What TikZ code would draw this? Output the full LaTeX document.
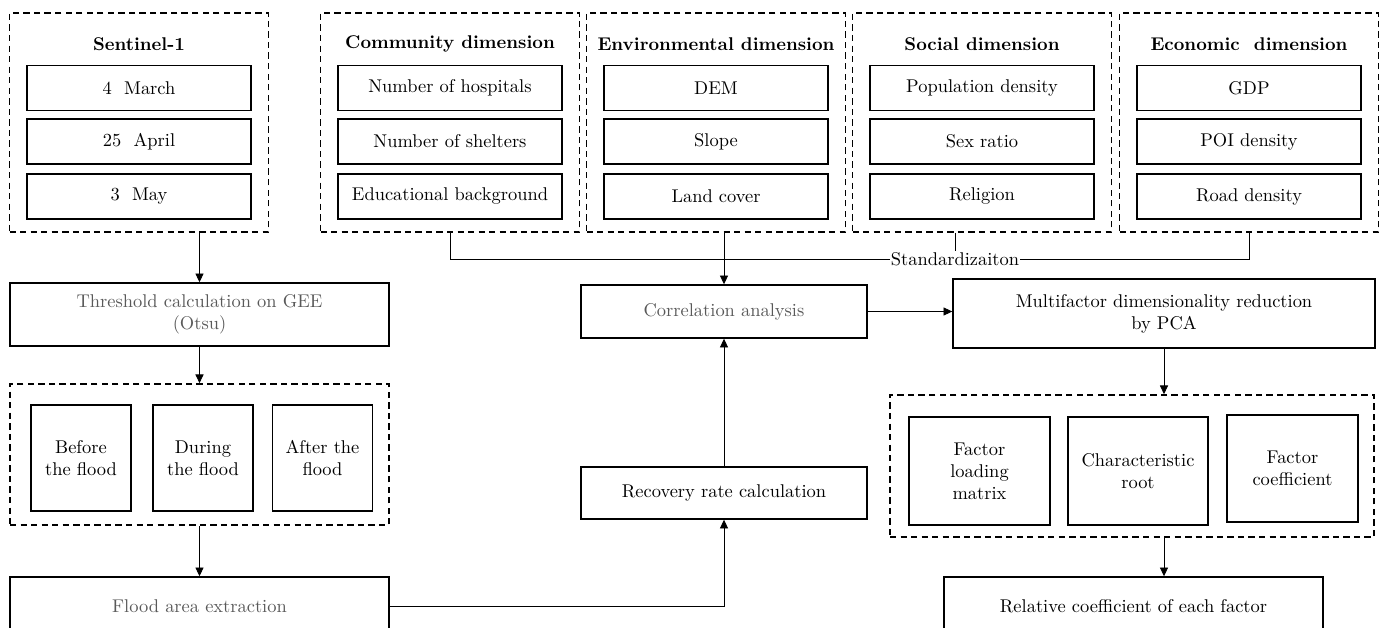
\documentclass[tikz,border=0pt]{standalone}
\usetikzlibrary{arrows.meta,positioning}
\begin{document}
\begin{tikzpicture}[x=0.02cm,y=-0.02cm,
    font=\fontsize{10.5}{12.5}\selectfont,
    sz/.style 2 args={minimum width=#1*0.02cm,minimum height=#2*0.02cm,inner sep=1pt},
    group/.style={draw,line width=0.9pt,dash pattern=on 3.6pt off 2.4pt},
    item/.style={draw,line width=0.9pt,align=center},
    stage/.style={draw,line width=0.8pt,align=center},
    faint/.style={text=black!65},
    arr/.style={-{Triangle[length=5pt,width=4.6pt]},line width=0.5pt},
    link/.style={line width=0.5pt}]
  \useasboundingbox (0,0) rectangle (1384,628);
  \clip (0,0) rectangle (1384,628);
  % data sources and the four dimensions
  \foreach[count=\i] \cx/\ttl/\ia/\ib/\ic in {
      139/Sentinel-1/4~~March/25~~April/3~~May,
      450/Community dimension/Number of hospitals/Number of shelters/Educational background,
      716/Environmental dimension/DEM/Slope/Land cover,
      982/Social dimension/Population density/Sex ratio/Religion,
      1249/Economic~~dimension/GDP/POI density/Road density} {
    \node[group,sz={259}{219}] (grp\i) at (\cx,122.5) {};
    \node[font=\fontsize{10.5}{12.5}\selectfont\bfseries] (grp\i-t) at (\cx,44) {\ttl};
    \node[item,sz={224}{45}] (grp\i-1) at (\cx,88) {\ia};
    \node[item,sz={224}{45}] (grp\i-2) at (\cx,141.5) {\ib};
    \node[item,sz={224}{45}] (grp\i-3) at (\cx,196.5) {\ic};
  }
  % left column
  \node[stage,sz={379}{63},faint] (thr) at (199.5,314.5) {Threshold calculation on GEE\\(Otsu)};
  \node[group,sz={379}{141}] (per) at (199.5,454.5) {};
  \foreach[count=\i] \cx/\txt in {81/Before\\the flood,203/During\\the flood,322.5/After the\\flood}
    \node[item,sz={100}{106}] (per\i) at (\cx,458) {\txt};
  \node[stage,sz={379}{58},faint] (flood) at (199.5,606) {Flood area extraction};
  % middle column
  \node[stage,sz={286}{53},faint] (corr) at (724,311.5) {Correlation analysis};
  \node[stage,sz={286}{52}] (rec) at (724,493) {Recovery rate calculation};
  % right column
  \node[stage,sz={422}{69}] (pca) at (1164,313.5) {Multifactor dimensionality reduction\\by PCA};
  \node[group,sz={484}{142}] (res) at (1132,466) {};
  \node[item,sz={141}{108}] (res1) at (979.5,471) {Factor\\loading\\matrix};
  \node[item,sz={140}{108}] (res2) at (1138,471) {Characteristic\\root};
  \node[item,sz={131}{107}] (res3) at (1292.5,468.5) {Factor\\coefficient};
  \node[stage,sz={379}{58}] (rel) at (1133.5,606) {Relative coefficient of each factor};
  \node[fill=white,inner sep=0.5pt] (std) at (955,259) {Standardizaiton};
  % connectors
  \draw[arr] (grp1.south -| thr.north) -- (thr.north);
  \draw[arr] (thr) -- (per);
  \draw[arr] (per) -- (flood);
  \draw[arr] (flood.east) -| (rec.south);
  \draw[arr] (rec) -- (corr);
  \draw[link] (grp2.south) |- (std.west);
  \draw[link] (grp5.south) |- (std.east);
  \draw[link] (grp4.south -| std.north) -- (std.north);
  \draw[arr] (grp3.south -| corr.north) -- (corr.north);
  \draw[arr] (corr.east) -- (corr.east -| pca.west);
  \draw[arr] (pca.south) -- (pca.south |- res.north);
  \draw[arr] (res.south -| pca.south) -- (rel.north -| pca.south);
\end{tikzpicture}
\end{document}
